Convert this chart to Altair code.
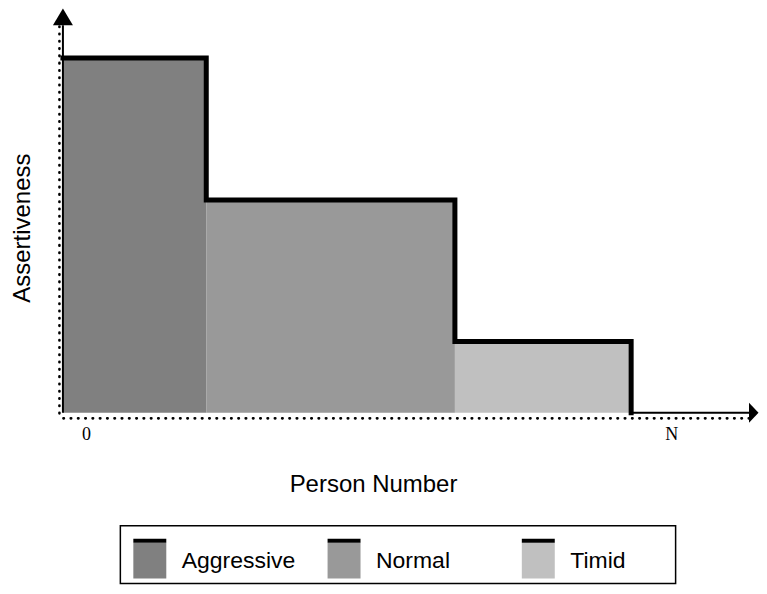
import altair as alt
import pandas as pd

# ---- data ----
categories = ["Aggressive", "Normal", "Timid"]
group_start = [0.0, 20.86, 57.05]
group_end = [20.86, 57.05, 82.7]
assertiveness = [91.6, 54.9, 18.4]
colors = ["#808080", "#999999", "#c0c0c0"]

axis_max_x = 100
axis_max_y = 100
tick_labels = ["0", "N"]
tick_pos = [3.42, 88.6]

SANS = "Liberation Sans"
SERIF = "Liberation Serif"

bars = pd.DataFrame({"group": categories, "start": group_start,
                     "end": group_end, "level": assertiveness})

pts = []
for s, e, h in zip(group_start, group_end, assertiveness):
    pts.append((s, h))
    pts.append((e, h))
pts.append((group_end[-1], 0))
step = pd.DataFrame({"x": [p[0] for p in pts], "y": [p[1] for p in pts],
                     "order": list(range(len(pts)))})

tail = pd.DataFrame({"x0": [group_end[-1]], "x1": [axis_max_x], "y": [0]})
yline = pd.DataFrame({"x": [0], "y0": [0], "y1": [axis_max_y]})
arrow_y = pd.DataFrame({"x": [0], "y": [axis_max_y]})
arrow_x = pd.DataFrame({"x": [axis_max_x], "y": [0]})
ticks = pd.DataFrame({"label": tick_labels, "pos": tick_pos, "y": [0, 0]})
leg = pd.DataFrame({"group": categories})
frame = pd.DataFrame({"box": ["legend"]})

xs = alt.Scale(domain=[0, axis_max_x], nice=False, zero=False)
ys = alt.Scale(domain=[0, axis_max_y], nice=False, zero=False)
color_scale = alt.Scale(domain=categories, range=colors)

x_axis = alt.Axis(title="Person Number", labels=False, ticks=False, grid=False,
                  domainDash=[0.5, 6.8], domainCap="round", domainWidth=2.6,
                  domainColor="black", offset=5,
                  titleFont=SANS, titleFontSize=24, titleFontWeight="normal",
                  titleColor="black", titleX=310.5, titleY=73.5,
                  titleBaseline="alphabetic", titleAlign="center")
y_axis = alt.Axis(title="Assertiveness", labels=False, ticks=False, grid=False,
                  domainDash=[0.5, 6.8], domainCap="round", domainWidth=2.6,
                  domainColor="black", offset=4,
                  titleFont=SANS, titleFontSize=24, titleFontWeight="normal",
                  titleColor="black", titleX=-29.5, titleY=202.5, titleAngle=-90,
                  titleBaseline="alphabetic", titleAlign="center")


def X(f, axis=False):
    return alt.X(f, scale=xs, axis=x_axis if axis else None)


def Y(f):
    return alt.Y(f, scale=ys, axis=y_axis)


rects = alt.Chart(bars).mark_rect(strokeWidth=0).encode(
    x=X("start:Q", axis=True), x2="end:Q", y=Y("level:Q"), y2=alt.datum(0),
    color=alt.Color("group:N", scale=color_scale, legend=None))

outline = alt.Chart(step).mark_line(color="black", strokeWidth=5,
                                    strokeJoin="miter", strokeCap="square").encode(
    x=X("x:Q"), y=Y("y:Q"), order="order:Q")

tail_rule = alt.Chart(tail).mark_rule(color="black", strokeWidth=2).encode(
    x=X("x0:Q"), x2="x1:Q", y=Y("y:Q"))

y_rule = alt.Chart(yline).mark_rule(color="black", strokeWidth=2).encode(
    x=X("x:Q"), y=Y("y0:Q"), y2="y1:Q")

up = alt.Chart(arrow_y).mark_point(shape="M0,-1.7L1,0L-1,0Z", size=400, filled=True,
                                   fill="black", opacity=1, strokeWidth=0).encode(
    x=X("x:Q"), y=Y("y:Q"))

right = alt.Chart(arrow_x).mark_point(shape="M-0.1,-1L0.85,0L-0.1,1Z", size=400,
                                      filled=True, fill="black", opacity=1,
                                      strokeWidth=0).encode(
    x=X("x:Q"), y=Y("y:Q"))

tick_text = alt.Chart(ticks).mark_text(font=SERIF, fontSize=18, color="black",
                                       baseline="alphabetic", dy=27).encode(
    x=X("pos:Q"), y=Y("y:Q"), text="label:N")

# ---- legend (below the plot, own point scale for the entries) ----
lx = alt.X("group:N", scale=alt.Scale(type="point", domain=categories,
                                      range=[87, 476], padding=0), axis=None)
legend_box = alt.Chart(frame).mark_rect(filled=False, stroke="black",
                                        strokeWidth=1.5).encode(
    x=alt.value(57.5), x2=alt.value(613.5), y=alt.value(501), y2=alt.value(559))
sw = alt.Chart(leg).mark_bar(width=33).encode(
    x=lx, y=alt.value(518), y2=alt.value(554),
    color=alt.Color("group:N", scale=color_scale, legend=None))
bar_top = alt.Chart(leg).mark_bar(width=33, color="black").encode(
    x=lx, y=alt.value(514), y2=alt.value(518))
lbl = alt.Chart(leg).mark_text(align="left", baseline="alphabetic", dx=32,
                               font=SANS, fontSize=23, color="black").encode(
    x=lx, y=alt.value(543), text="group:N")

chart = alt.layer(rects, outline, tail_rule, y_rule, up, right, tick_text,
                  legend_box, sw, bar_top, lbl).resolve_scale(
    x="independent").properties(
    width=688, height=388, view=alt.ViewBackground(strokeOpacity=0),
    padding={"left": 2, "top": 0, "right": 0, "bottom": 0})

chart.save("out.html", embed_options={"renderer": "svg", "actions": False})
